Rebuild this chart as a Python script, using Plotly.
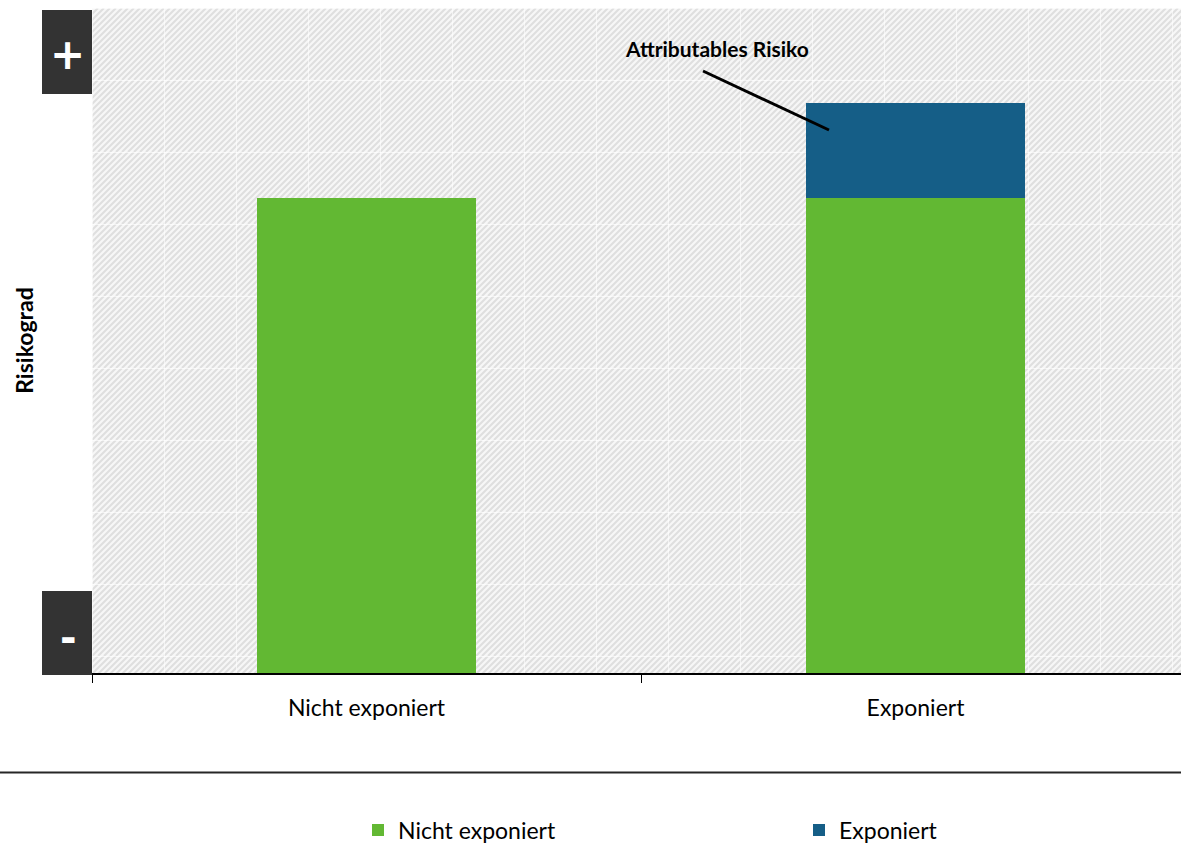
import base64
import plotly.graph_objects as go

# ---- data -------------------------------------------------------------
categories = ["Nicht exponiert", "Exponiert"]
baseline_risk = [5, 5]          # risk present regardless of exposure
attributable_risk = [0, 1]      # additional risk caused by exposure
series_names = ["Nicht exponiert", "Exponiert"]
y_max = 7

# ---- geometry of the canvas (pixels) -----------------------------------
W, H = 1181, 846
PL, PR, PT, PB = 92, 1181, 8, 673
PW, PH = PR - PL, PB - PT
CAT_PX = 549  # width of one category slot


def px_x(p):
    return (p - PL) / PW


def px_y(p):
    return (PB - p) / PH


GREEN = "#62B833"
BLUE = "#155E87"
DARK = "#333333"
FONT = "Lato"

# ---- hatched background with a light grid -----------------------------
cell = 72
lines = "".join(
    f'<line x1="{x}" y1="{cell}" x2="{x + cell}" y2="0" />' for x in range(-cell, cell + 6, 6)
)
svg = f'''<svg xmlns="http://www.w3.org/2000/svg" width="{PW}" height="{PH}" viewBox="0 0 {PW} {PH}" preserveAspectRatio="none">
<defs><pattern id="p" width="{cell}" height="{cell}" patternUnits="userSpaceOnUse">
<rect width="{cell}" height="{cell}" fill="#f7f7f7"/>
<g stroke="#dfdfdf" stroke-width="2">{lines}</g>
<line x1="0" y1="0.5" x2="{cell}" y2="0.5" stroke="#ffffff" stroke-width="1" stroke-opacity="0.6"/>
<line x1="0.5" y1="0" x2="0.5" y2="{cell}" stroke="#ffffff" stroke-width="1" stroke-opacity="0.6"/>
</pattern></defs>
<rect width="{PW}" height="{PH}" fill="url(#p)"/>
</svg>'''
bg_src = "data:image/svg+xml;base64," + base64.b64encode(svg.encode()).decode()

fig = go.Figure()
fig.add_trace(go.Bar(
    x=categories, y=baseline_risk, name=series_names[0], legend="legend",
    marker=dict(color=GREEN, line=dict(width=0)), width=0.4, showlegend=True,
))
fig.add_trace(go.Bar(
    x=categories, y=attributable_risk, name=series_names[1], legend="legend2",
    marker=dict(color=BLUE, line=dict(width=0)), width=0.4, showlegend=True,
))

x_hi = -0.5 + PW / CAT_PX
legend_font = dict(family=FONT, size=23, color="#000000")
legend_y = 1 - 830 / H

fig.update_layout(
    width=W, height=H,
    showlegend=True,
    margin=dict(l=PL, r=W - PR, t=PT, b=H - PB, autoexpand=False),
    paper_bgcolor="white", plot_bgcolor="#f7f7f7",
    barmode="stack", bargap=0,
    hovermode=False,
    font=dict(family=FONT, size=23, color="#000000"),
    xaxis=dict(
        type="category", range=[-0.5, x_hi], tickson="boundaries",
        ticks="outside", ticklen=8, tickwidth=1, tickcolor="#000000",
        showline=True, linecolor="#000000", linewidth=1.5,
        showgrid=False, zeroline=False, ticklabelstandoff=14,
        tickfont=dict(family=FONT, size=23, color="#000000"),
    ),
    yaxis=dict(
        range=[0, y_max], showticklabels=False, ticks="", showgrid=False,
        zeroline=False, showline=False,
        title=dict(text="<b>Risikograd</b>", standoff=50,
                   font=dict(family=FONT, size=23, color="#000000")),
    ),
    legend=dict(
        orientation="h", xref="container", yref="container",
        x=358 / W, xanchor="left", y=legend_y, yanchor="middle",
        font=legend_font, bgcolor="rgba(0,0,0,0)",
    ),
    legend2=dict(
        orientation="h", xref="container", yref="container",
        x=799 / W, xanchor="left", y=legend_y, yanchor="middle",
        font=legend_font, bgcolor="rgba(0,0,0,0)",
    ),
    images=[dict(
        source=bg_src, xref="paper", yref="paper", x=0, y=1,
        sizex=1, sizey=1, xanchor="left", yanchor="top",
        sizing="stretch", layer="below",
    )],
    shapes=[
        dict(type="rect", xref="paper", yref="paper", x0=px_x(42), x1=px_x(92),
             y0=px_y(94), y1=px_y(10), fillcolor=DARK, line=dict(width=0), layer="above"),
        dict(type="rect", xref="paper", yref="paper", x0=px_x(42), x1=px_x(92),
             y0=px_y(675), y1=px_y(591), fillcolor=DARK, line=dict(width=0), layer="above"),
        dict(type="line", xref="paper", yref="paper", x0=px_x(0), x1=px_x(W),
             y0=px_y(772.5), y1=px_y(772.5), line=dict(color="#262626", width=2)),
        dict(type="line", xref="paper", yref="paper", x0=px_x(703), x1=px_x(829),
             y0=px_y(71), y1=px_y(130), line=dict(color="#000000", width=3)),
    ],
    annotations=[
        dict(text="<b>+</b>", xref="paper", yref="paper", x=px_x(67), y=px_y(54),
             xanchor="center", yanchor="middle", showarrow=False,
             font=dict(family="DejaVu Sans", size=42, color="white")),
        dict(text="<b>-</b>", xref="paper", yref="paper", x=px_x(68), y=px_y(638),
             xanchor="center", yanchor="middle", showarrow=False,
             font=dict(family="DejaVu Sans", size=40, color="white")),
        dict(text="<b>Attributables Risiko</b>", xref="paper", yref="paper",
             x=px_x(717), y=px_y(48), xanchor="center", yanchor="middle",
             showarrow=False, font=dict(family=FONT, size=21, color="#000000")),
    ],
)

fig.write_html("out.html", config={"displayModeBar": False, "staticPlot": True})
